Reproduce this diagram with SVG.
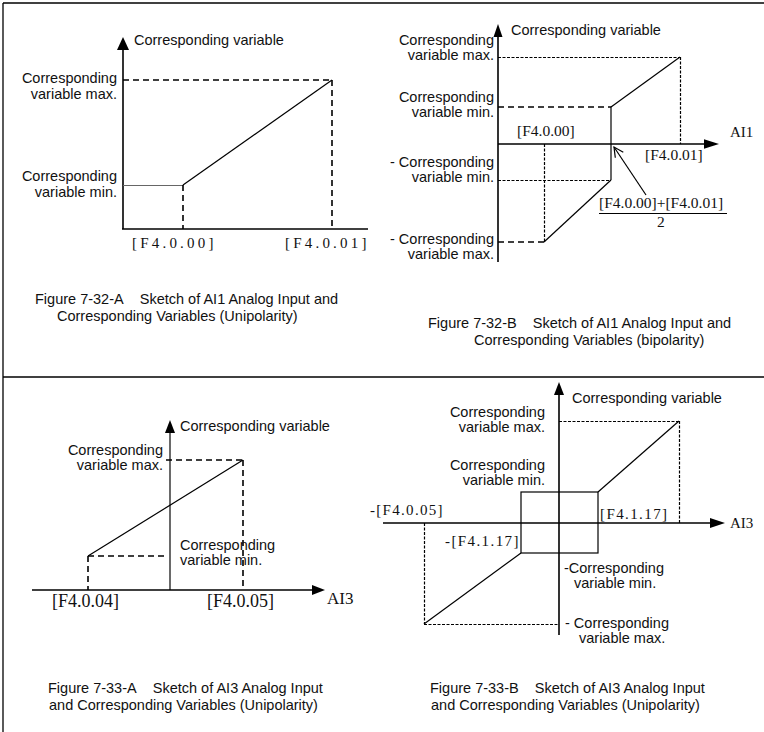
<svg xmlns="http://www.w3.org/2000/svg" width="764" height="732" viewBox="0 0 764 732">
<style>
.s{font-family:"Liberation Sans",Arial,sans-serif;font-size:14.5px;fill:#111}
.e{text-anchor:end}
.r{font-family:"Liberation Serif","Times New Roman",serif;font-size:15px;fill:#111}
.ax{stroke:#000;stroke-width:1.6;fill:none}
.th{stroke:#000;stroke-width:1.2;fill:none}
.dh{stroke:#000;stroke-width:1.6;stroke-dasharray:6 4;fill:none}
.dt{stroke:#000;stroke-width:1.2;stroke-dasharray:3 1.5;fill:none}
.ah{fill:#000}
.frame{stroke:#000;stroke-width:1.3;fill:none}
</style>
<rect width="764" height="732" fill="#fff"/>
<g id="frame">
<line class="frame" x1="3" y1="3" x2="764" y2="3"/>
<line class="frame" x1="3" y1="3" x2="3" y2="732"/>
<line class="frame" x1="3" y1="377" x2="764" y2="377"/>
</g>

<g id="chartA">
<g id="connectorsA">
<line class="ax" x1="123" y1="48" x2="123" y2="229"/>
<polygon class="ah" points="123,37 117,50 129,50"/>
<line class="ax" x1="122" y1="229" x2="368" y2="229"/>
<line class="dh" x1="123" y1="80" x2="332" y2="80"/>
<line class="dh" x1="332" y1="80" x2="332" y2="229"/>
<line class="th" x1="332" y1="80" x2="183" y2="185"/>
<line stroke="#666" stroke-width="1" x1="123" y1="185.5" x2="183" y2="185.5"/>
<line class="dh" x1="183" y1="185" x2="183" y2="229"/>
</g>
<g id="labelsA">
<text class="s" x="134" y="45">Corresponding variable</text>
<text class="s e" x="117" y="83">Corresponding</text>
<text class="s e" x="117" y="99">variable max.</text>
<text class="s e" x="117" y="181">Corresponding</text>
<text class="s e" x="117" y="197">variable min.</text>
<text class="r" x="132" y="248" style="letter-spacing:3.2px">[F4.0.00]</text>
<text class="r" x="285" y="248" style="letter-spacing:3.2px">[F4.0.01]</text>
<text class="s" x="35" y="304">Figure 7-32-A&#160;&#160;&#160;&#160;Sketch of AI1 Analog Input and</text>
<text class="s" x="57" y="321">Corresponding Variables (Unipolarity)</text>
</g>
</g>

<g id="chartB">
<g id="connectorsB">
<line class="ax" x1="498" y1="34" x2="498" y2="262"/>
<polygon class="ah" points="498,24 493.5,37 502.5,37"/>
<line class="ax" x1="498" y1="144" x2="706" y2="144"/>
<polygon class="ah" points="719,144 704,139.3 704,148.7"/>
<line class="dt" x1="498" y1="57.5" x2="680" y2="57.5"/>
<line class="dt" x1="680.5" y1="57" x2="680.5" y2="144"/>
<line class="th" x1="611" y1="107" x2="680" y2="57" stroke-width="1.4"/>
<line class="dh" x1="498" y1="107" x2="611" y2="107"/>
<line class="th" x1="611" y1="107" x2="611" y2="180" stroke-width="1.5"/>
<line class="dt" x1="544.5" y1="144" x2="544.5" y2="242"/>
<line class="dt" x1="498" y1="180.5" x2="611" y2="180.5"/>
<line class="th" x1="611" y1="180" x2="544" y2="242" stroke-width="1.4"/>
<line class="dh" x1="498" y1="242" x2="544" y2="242"/>
<line class="th" x1="646" y1="195" x2="614" y2="147"/>
<polyline class="th" points="615.3,157.7 614,147 623.3,152.3"/>
<line class="th" x1="599" y1="213.5" x2="727" y2="213.5"/>
</g>
<g id="labelsB">
<text class="s" x="511" y="35">Corresponding variable</text>
<text class="s e" x="494" y="45">Corresponding</text>
<text class="s e" x="494" y="60">variable max.</text>
<text class="s e" x="494" y="102">Corresponding</text>
<text class="s e" x="494" y="117">variable min.</text>
<text class="s e" x="494" y="167">- Corresponding</text>
<text class="s e" x="494" y="182">variable min.</text>
<text class="s e" x="494" y="244">- Corresponding</text>
<text class="s e" x="494" y="259">variable max.</text>
<text class="r" x="730" y="137">AI1</text>
<text class="r" x="517" y="136" style="font-size:15.5px">[F4.0.00]</text>
<text class="r" x="645" y="160" style="font-size:15.5px">[F4.0.01]</text>
<text class="r" x="599" y="208" style="font-size:15.5px">[F4.0.00]+[F4.0.01]</text>
<text class="r" x="657" y="227" style="font-size:15.5px">2</text>
<text class="s" x="428" y="328">Figure 7-32-B&#160;&#160;&#160;&#160;Sketch of AI1 Analog Input and</text>
<text class="s" x="474" y="345">Corresponding Variables (bipolarity)</text>
</g>
</g>

<g id="chartC">
<g id="connectorsC">
<line stroke="#444" stroke-width="1.6" x1="170" y1="431" x2="170" y2="590"/>
<polygon class="ah" points="170,420 165,433 175,433"/>
<line class="ax" x1="32" y1="590" x2="313" y2="590"/>
<polygon class="ah" points="325,590 312,585 312,595"/>
<line class="dh" x1="166" y1="460" x2="243" y2="460"/>
<line class="dh" x1="243" y1="460" x2="243" y2="590"/>
<line class="th" x1="243" y1="460" x2="88" y2="556"/>
<line class="dh" x1="88" y1="556" x2="166" y2="556"/>
<line class="dh" x1="88" y1="556" x2="88" y2="590"/>
</g>
<g id="labelsC">
<text class="s" x="180" y="431">Corresponding variable</text>
<text class="s e" x="163" y="455">Corresponding</text>
<text class="s e" x="163" y="470">variable max.</text>
<text class="s" x="180" y="550">Corresponding</text>
<text class="s" x="180" y="565">variable min.</text>
<text class="r" x="327" y="604" style="font-size:17px">AI3</text>
<text class="r" x="52" y="607" style="font-size:18px">[F4.0.04]</text>
<text class="r" x="207" y="607" style="font-size:18px">[F4.0.05]</text>
<text class="s" x="48" y="693">Figure 7-33-A&#160;&#160;&#160;&#160;Sketch of AI3 Analog Input</text>
<text class="s" x="49" y="710">and Corresponding Variables (Unipolarity)</text>
</g>
</g>

<g id="chartD">
<g id="connectorsD">
<line class="ax" x1="559" y1="394" x2="559" y2="635"/>
<polygon class="ah" points="559,382 554,395 564,395"/>
<line class="ax" x1="383" y1="523" x2="711" y2="523"/>
<polygon class="ah" points="725,523 710,518 710,528"/>
<line class="dt" x1="559" y1="421.5" x2="679" y2="421.5"/>
<line class="dt" x1="679.5" y1="421" x2="679.5" y2="523"/>
<rect class="th" x="521" y="492" width="77" height="61" stroke-width="1.5"/>
<line class="th" x1="598" y1="492" x2="679" y2="421" stroke-width="1.5"/>
<line class="th" x1="521" y1="553" x2="424" y2="624" stroke-width="1.5"/>
<line class="dt" x1="424.5" y1="523" x2="424.5" y2="624"/>
<line class="dt" x1="424" y1="624.5" x2="559" y2="624.5"/>
</g>
<g id="labelsD">
<text class="s" x="572" y="403">Corresponding variable</text>
<text class="s e" x="545" y="417">Corresponding</text>
<text class="s e" x="545" y="432">variable max.</text>
<text class="s e" x="545" y="470">Corresponding</text>
<text class="s e" x="545" y="485">variable min.</text>
<text class="r" x="730" y="528">AI3</text>
<text class="r" x="600" y="519" style="letter-spacing:1.4px">[F4.1.17]</text>
<text class="r" x="445" y="546" style="letter-spacing:1.4px">-[F4.1.17]</text>
<text class="r" x="370" y="515" style="letter-spacing:1.3px">-[F4.0.05]</text>
<text class="s" x="564" y="573">-Corresponding</text>
<text class="s" x="574" y="588">variable min.</text>
<text class="s" x="565" y="628">- Corresponding</text>
<text class="s" x="579" y="643">variable max.</text>
<text class="s" x="430" y="693">Figure 7-33-B&#160;&#160;&#160;&#160;Sketch of AI3 Analog Input</text>
<text class="s" x="431" y="710">and Corresponding Variables (Unipolarity)</text>
</g>
</g>
</svg>
